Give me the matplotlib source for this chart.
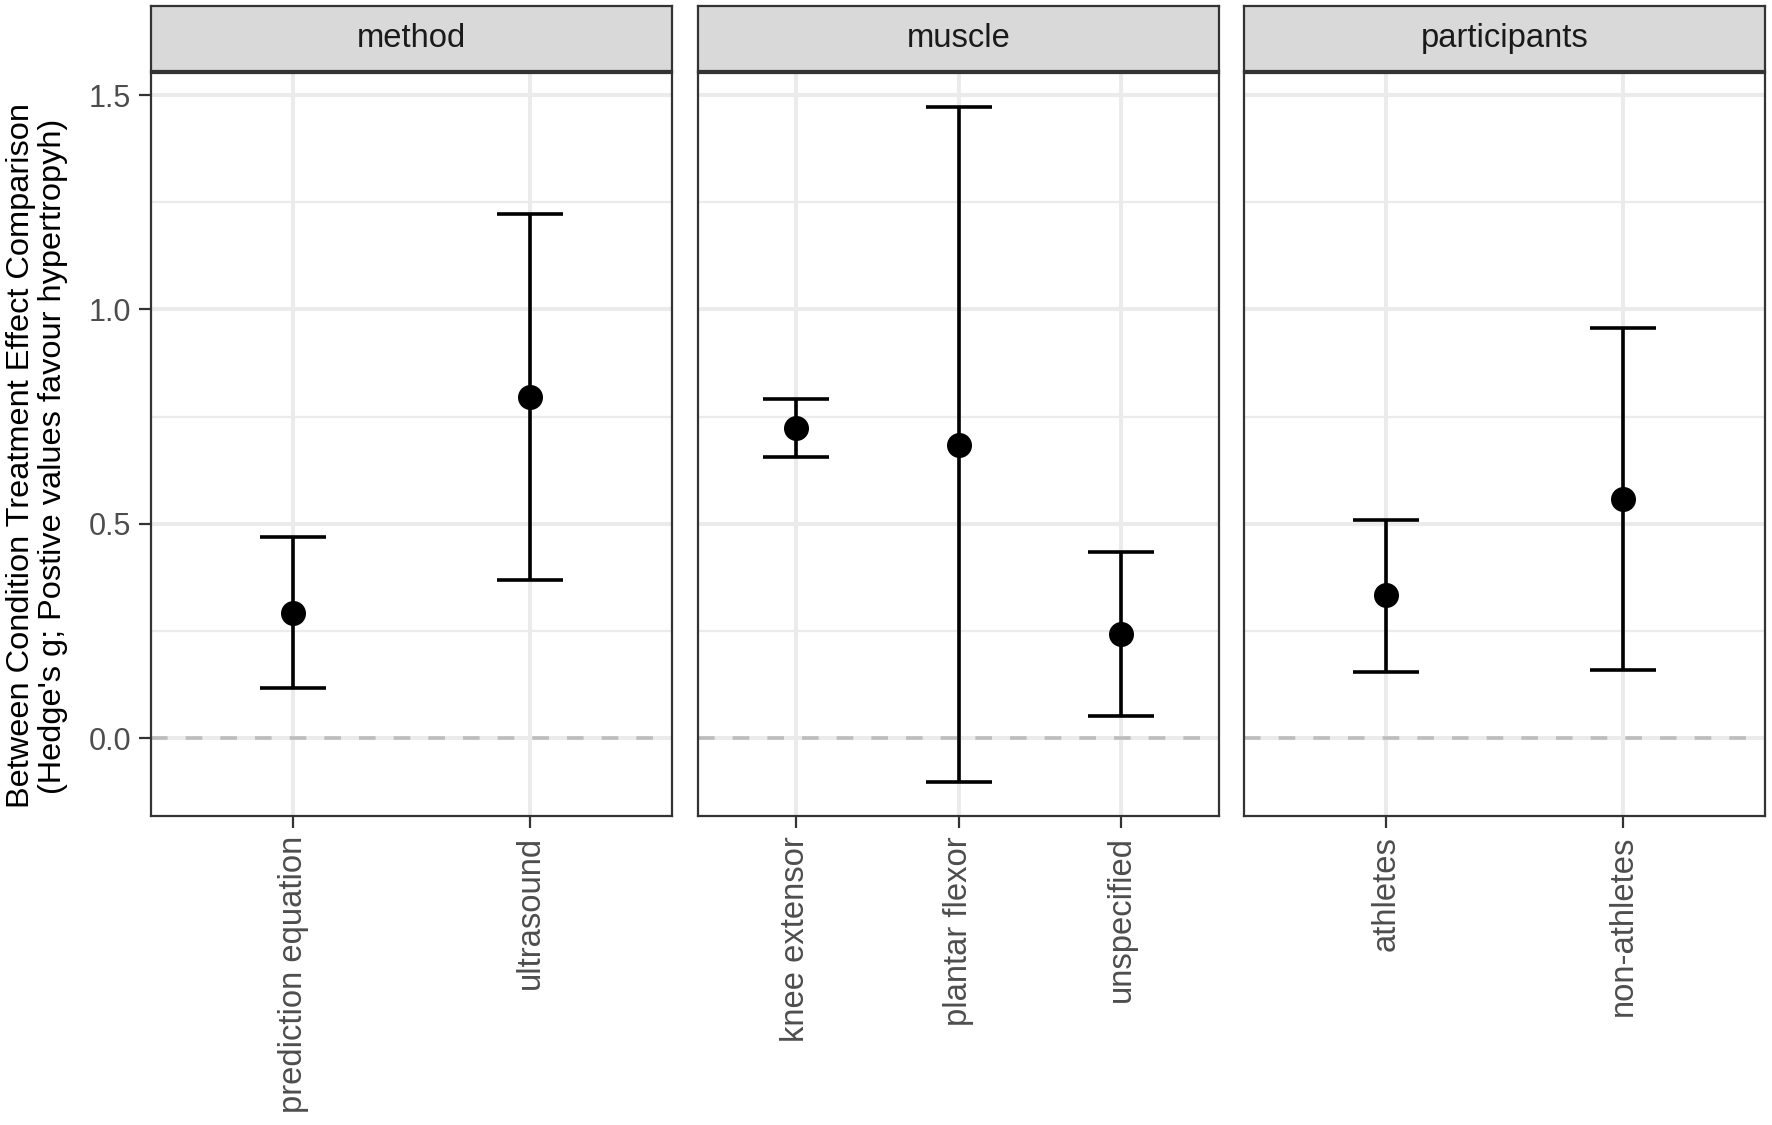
import numpy as np
import matplotlib
matplotlib.use("Agg")
import matplotlib.pyplot as plt

plt.rcParams['font.family'] = ['Liberation Sans', 'DejaVu Sans']

# data (Hedge's g with CI)
facets = ['method', 'muscle', 'participants']
method_cats = ['prediction equation', 'ultrasound']
method_est = [0.293, 0.795]
method_lo = [0.116, 0.368]
method_hi = [0.470, 1.223]

muscle_cats = ['knee extensor', 'plantar flexor', 'unspecified']
muscle_est = [0.723, 0.684, 0.243]
muscle_lo = [0.657, -0.103, 0.051]
muscle_hi = [0.791, 1.473, 0.435]

part_cats = ['athletes', 'non-athletes']
part_est = [0.333, 0.559]
part_lo = [0.155, 0.159]
part_hi = [0.510, 0.957]

panels = [
    (method_cats, method_est, method_lo, method_hi),
    (muscle_cats, muscle_est, muscle_lo, muscle_hi),
    (part_cats, part_est, part_lo, part_hi),
]

W, H = 1772, 1125
dpi = 200
fig = plt.figure(figsize=(W / dpi, H / dpi), dpi=dpi)

# y range: ggplot-style 5% expansion of the data range
all_lo = min(min(p[2]) for p in panels)
all_hi = max(max(p[3]) for p in panels)
pad = 0.05 * (all_hi - all_lo)
ylo, yhi = all_lo - pad, all_hi + pad

lefts = [151, 698, 1244]
pw = 521
ptop, pbot = 73, 816
stop, sbot = 6, 71

border = '#333333'
for i, (cats, est, lo, hi) in enumerate(panels):
    ax = fig.add_axes([lefts[i] / W, 1 - pbot / H, pw / W, (pbot - ptop) / H])
    n = len(cats)
    x = np.arange(1, n + 1)
    ax.set_xlim(0.4, n + 0.6)
    ax.set_ylim(ylo, yhi)

    # grid
    for yy in [0.25, 0.75, 1.25]:
        ax.axhline(yy, color='#EBEBEB', lw=0.8, zorder=0)
    for yy in [0, 0.5, 1.0, 1.5]:
        ax.axhline(yy, color='#EBEBEB', lw=1.45, zorder=0)
    for xx in x:
        ax.axvline(xx, color='#EBEBEB', lw=1.45, zorder=0)
    ax.axhline(0, color='#BDBDBD', lw=1.3, dashes=(4.6, 5.0), zorder=1)

    est = np.array(est)
    yerr = [est - np.array(lo), np.array(hi) - est]
    ax.errorbar(x, est, yerr=yerr, fmt='none', ecolor='black', elinewidth=1.3,
                capsize=12, capthick=1.3, zorder=3)
    ax.scatter(x, est, s=64, color='black', zorder=4)

    ax.set_xticks(x)
    ax.set_xticklabels(cats, rotation=90, fontsize=11.8, color='#4D4D4D')
    ax.set_yticks([0.0, 0.5, 1.0, 1.5])
    if i == 0:
        ax.set_yticklabels(['0.0', '0.5', '1.0', '1.5'], fontsize=11, color='#4D4D4D')
    else:
        ax.tick_params(axis='y', left=False, labelleft=False)
    ax.tick_params(axis='both', length=4.2, width=0.8, color=border, pad=3)
    for s in ax.spines.values():
        s.set_color(border)
        s.set_linewidth(0.8)

    # facet strip
    sax = fig.add_axes([lefts[i] / W, 1 - sbot / H, pw / W, (sbot - stop) / H])
    sax.set_facecolor('#D9D9D9')
    sax.set_xticks([])
    sax.set_yticks([])
    for s in sax.spines.values():
        s.set_color(border)
        s.set_linewidth(0.8)
    sax.text(0.5, 0.5, facets[i], ha='center', va='center', fontsize=11.8,
             color='#1A1A1A', transform=sax.transAxes)

fig.text(37 / W, 1 - 456 / H,
         "Between Condition Treatment Effect Comparison\n"
         "(Hedge's g; Postive values favour hypertropyh)",
         rotation=90, ha='center', va='center', multialignment='center',
         fontsize=11.7, linespacing=1.05, color='black')

fig.savefig('out.png', dpi=dpi)
